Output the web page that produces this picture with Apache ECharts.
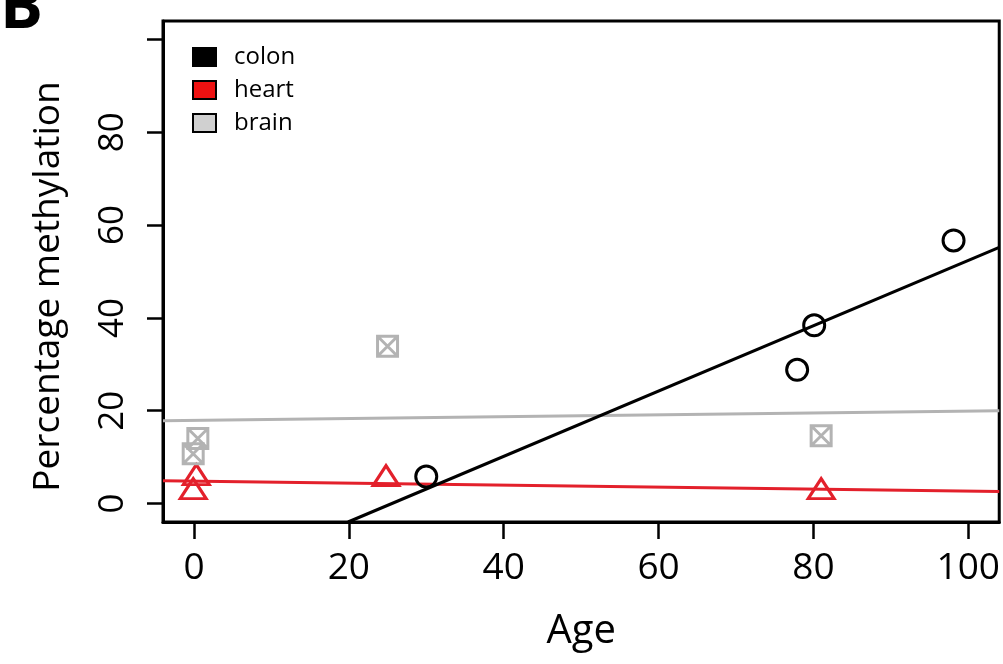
<!DOCTYPE html>
<html>
<head>
<meta charset="utf-8">
<script src="https://cdn.jsdelivr.net/npm/echarts@6/dist/echarts.min.js"></script>
<style>
html,body{margin:0;padding:0;background:#fff;}
#chart{width:1003px;height:664px;}
</style>
</head>
<body>
<div id="chart"></div>
<script>
// ---- data ----
const seriesNames = ['colon', 'heart', 'brain'];
const colonPoints = [[30.0, 5.8], [77.9, 28.8], [80.1, 38.4], [98.1, 56.7]];
const heartPoints = [[0.3, 6.2], [-0.1, 3.2], [24.8, 6.0], [81.0, 3.2]];
const brainPoints = [[0.5, 14.0], [-0.1, 10.7], [25.0, 33.9], [81.0, 14.6]];
// fitted lines (endpoints where each line meets the plot box)
const colonFit = [[19.9, -4], [104, 55.2]];
const heartFit = [[-4, 4.9], [104, 2.6]];
const brainFit = [[-4, 17.8], [104, 20.0]];
// ticks
const xTicks = [0, 20, 40, 60, 80, 100];
const yTicks = [0, 20, 40, 60, 80, 100];
const yLabels = [0, 20, 40, 60, 80];

const RED = '#e3202b';
const GREY = '#b3b3b3';
const FONT = 'Open Sans';
const squareX = 'path://M0,0L10,0L10,10L0,10Z M0,0L10,10 M10,0L0,10';

const chart = echarts.init(document.getElementById('chart'));
chart.setOption({
  animation: false,
  backgroundColor: '#fff',
  textStyle: { fontFamily: FONT },
  grid: {
    left: 163, right: 3, top: 21, bottom: 142,
    show: true, borderColor: '#000', borderWidth: 3, backgroundColor: 'transparent'
  },
  legend: {
    orient: 'vertical', left: 187, top: 40,
    itemWidth: 23, itemHeight: 18, itemGap: 9,
    textStyle: { fontFamily: FONT, fontSize: 24, color: '#000', padding: [0, 0, 0, 13] },
    data: [
      { name: 'colon', icon: 'rect', itemStyle: { color: '#000', borderColor: '#000', borderWidth: 2 } },
      { name: 'heart', icon: 'rect', itemStyle: { color: '#ee1111', borderColor: '#000', borderWidth: 2 } },
      { name: 'brain', icon: 'rect', itemStyle: { color: '#d0d0d0', borderColor: '#000', borderWidth: 2 } }
    ]
  },
  xAxis: {
    type: 'value', min: -4, max: 104,
    name: 'Age', nameLocation: 'middle', nameGap: 90,
    nameTextStyle: { fontFamily: FONT, fontSize: 40, color: '#000' },
    axisLine: { show: true, onZero: false, lineStyle: { color: '#000', width: 3 } },
    axisTick: { show: true, inside: false, length: 17, lineStyle: { color: '#000', width: 2.5 }, customValues: xTicks },
    axisLabel: { show: true, margin: 28, fontSize: 37, color: '#000', fontFamily: FONT, customValues: xTicks },
    splitLine: { show: false }
  },
  yAxis: {
    type: 'value', min: -4, max: 104,
    name: 'Percentage methylation', nameLocation: 'middle', nameGap: 96, nameRotate: 90,
    nameTextStyle: { fontFamily: FONT, fontSize: 37, color: '#000', padding: [0, 30, 0, 0] },
    axisLine: { show: true, onZero: false, lineStyle: { color: '#000', width: 3 } },
    axisTick: { show: true, inside: false, length: 16, lineStyle: { color: '#000', width: 2.5 }, customValues: yTicks },
    axisLabel: { show: true, rotate: 90, margin: 32, fontSize: 35, color: '#000', fontFamily: FONT, customValues: yLabels },
    splitLine: { show: false }
  },
  graphic: [
    { type: 'text', left: 0, top: -22, style: { text: 'B', font: 'bold 64px "Open Sans"', fill: '#000' } }
  ],
  series: [
    { name: 'brain-fit', type: 'line', data: brainFit, symbol: 'none', clip: true,
      lineStyle: { color: GREY, width: 3 }, z: 2 },
    { name: 'heart-fit', type: 'line', data: heartFit, symbol: 'none', clip: true,
      lineStyle: { color: RED, width: 3 }, z: 2 },
    { name: 'colon-fit', type: 'line', data: colonFit, symbol: 'none', clip: true,
      lineStyle: { color: '#000', width: 3 }, z: 2 },
    { name: 'colon', type: 'scatter', data: colonPoints, symbol: 'circle', symbolSize: 21,
      itemStyle: { color: 'rgba(0,0,0,0)', borderColor: '#000', borderWidth: 3, opacity: 1 }, z: 3 },
    { name: 'heart', type: 'scatter', data: heartPoints, symbol: 'triangle', symbolSize: [26, 20],
      itemStyle: { color: 'rgba(0,0,0,0)', borderColor: RED, borderWidth: 3, opacity: 1 }, z: 3 },
    { name: 'brain', type: 'scatter', data: brainPoints, symbol: squareX, symbolSize: 20,
      itemStyle: { color: 'rgba(0,0,0,0)', borderColor: GREY, borderWidth: 3, opacity: 1 }, z: 3 }
  ]
});
</script>
</body>
</html>
